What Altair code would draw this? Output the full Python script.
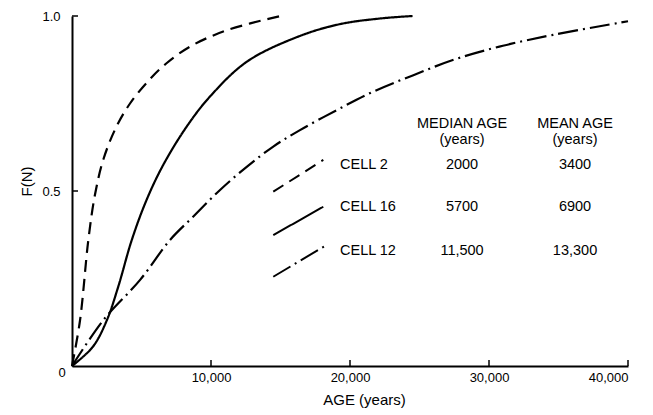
import altair as alt
import pandas as pd

# ---- data ----
cell_names = ["CELL 2", "CELL 16", "CELL 12"]

cell2_age = [0, 576, 1175, 1655, 2254, 3150, 4173, 5500, 6800, 8600, 11200, 15000]
cell2_f = [0, 0.13, 0.36, 0.49, 0.59, 0.68, 0.75, 0.815, 0.865, 0.915, 0.96, 1.0]

cell16_age = [0, 1500, 2500, 3330, 4300, 5370, 6570, 8250, 9930, 12600, 16400, 19300, 22200, 24500]
cell16_f = [0, 0.055, 0.13, 0.227, 0.36, 0.475, 0.575, 0.684, 0.77, 0.87, 0.943, 0.977, 0.993, 1.0]

cell12_age = [0, 2250, 4900, 7050, 8730, 10650, 12570, 14480, 16400, 19040, 21680, 24560, 27600, 31000, 34600, 40000]
cell12_f = [0, 0.131, 0.246, 0.36, 0.427, 0.503, 0.569, 0.627, 0.674, 0.731, 0.784, 0.831, 0.877, 0.915, 0.946, 0.985]

median_ages = ["2000", "5700", "11,500"]
mean_ages = ["3400", "6900", "13,300"]
header_line1 = ["MEDIAN AGE", "MEAN AGE"]
header_line2 = ["(years)", "(years)"]

x_ticks = [10000, 20000, 30000, 40000]
y_ticks = [0.5, 1.0]

FONT = "Liberation Sans"
W, H = 556, 350

# ---- build tables ----
rows = []
for name, ages, fs in zip(cell_names, [cell2_age, cell16_age, cell12_age], [cell2_f, cell16_f, cell12_f]):
    for i, (a, f) in enumerate(zip(ages, fs)):
        rows.append({"cell": name, "age": a, "f": f, "order": i})
curves = pd.DataFrame(rows)

dash_scale = alt.Scale(domain=cell_names, range=[[12, 7], [1, 0], [20, 5, 2, 5]])

# legend layout (in data coordinates)
row_f = [0.574, 0.455, 0.329]
seg_x0 = [14480, 14480, 14480]
seg_x1 = [18080, 18080, 18320]
seg_y0 = [0.498, 0.374, 0.255]
seg_y1 = [0.589, 0.455, 0.346]
legend_segs = pd.DataFrame({"cell": cell_names, "x": seg_x0, "x2": seg_x1, "y": seg_y0, "y2": seg_y1})

col_name_x, col_med_x, col_mean_x = 19280, 28060, 36190
text_rows = []
for name, med, mean, fy in zip(cell_names, median_ages, mean_ages, row_f):
    text_rows.append({"t": name, "x": col_name_x, "y": fy, "al": "left"})
    text_rows.append({"t": med, "x": col_med_x, "y": fy, "al": "center"})
    text_rows.append({"t": mean, "x": col_mean_x, "y": fy, "al": "center"})
for h1, h2, cx in zip(header_line1, header_line2, [col_med_x, col_mean_x]):
    text_rows.append({"t": h1, "x": cx, "y": 0.691, "al": "center"})
    text_rows.append({"t": h2, "x": cx, "y": 0.646, "al": "center"})
texts = pd.DataFrame(text_rows)

xs = alt.Scale(domain=[0, 40000], nice=False)
ys = alt.Scale(domain=[0, 1], nice=False)

base = alt.Chart(curves)

lines = base.mark_line(color="black", strokeWidth=2.2, interpolate="catmull-rom", clip=False).encode(
    x=alt.X("age:Q", scale=xs, axis=alt.Axis(
        values=x_ticks, format=",.0f", title="AGE (years)", ticks=False,
        labelPadding=5, titlePadding=8, titleX=292)),
    y=alt.Y("f:Q", scale=ys, axis=alt.Axis(
        values=y_ticks, format=".1f", title="F(N)", ticks=False,
        labelPadding=12, titlePadding=7, titleY=165)),
    strokeDash=alt.StrokeDash("cell:N", scale=dash_scale, legend=None),
    detail="cell:N",
    order="order:Q",
)

segs = alt.Chart(legend_segs).mark_rule(color="black", strokeWidth=2).encode(
    x=alt.X("x:Q", scale=xs), x2="x2:Q",
    y=alt.Y("y:Q", scale=ys), y2="y2:Q",
    strokeDash=alt.StrokeDash("cell:N", scale=dash_scale, legend=None),
)

left_text = alt.Chart(texts).transform_filter("datum.al == 'left'").mark_text(
    font=FONT, fontSize=14.5, align="left", baseline="middle", color="black").encode(
    x=alt.X("x:Q", scale=xs), y=alt.Y("y:Q", scale=ys), text="t:N")
center_text = alt.Chart(texts).transform_filter("datum.al == 'center'").mark_text(
    font=FONT, fontSize=14.5, align="center", baseline="middle", color="black").encode(
    x=alt.X("x:Q", scale=xs), y=alt.Y("y:Q", scale=ys), text="t:N")

# inward ticks
xt = alt.Chart(pd.DataFrame({"v": x_ticks})).mark_rule(color="black", strokeWidth=1.5).encode(
    x=alt.X("v:Q", scale=xs), y=alt.value(H), y2=alt.value(H - 6))
yt = alt.Chart(pd.DataFrame({"v": y_ticks})).mark_rule(color="black", strokeWidth=1.5).encode(
    y=alt.Y("v:Q", scale=ys), x=alt.value(0), x2=alt.value(6))

zero_lab = alt.Chart(pd.DataFrame({"x": [0], "y": [0], "t": ["0"]})).mark_text(
    font=FONT, fontSize=13, align="center", baseline="middle", dx=-10, dy=7, color="black").encode(
    x=alt.X("x:Q", scale=xs), y=alt.Y("y:Q", scale=ys), text="t:N")

chart = alt.layer(lines, segs, left_text, center_text, xt, yt, zero_lab).properties(
    width=W, height=H,
    autosize=alt.AutoSizeParams(type="none"),
    padding={"left": 72, "top": 16, "right": 25, "bottom": 49},
).configure_view(stroke=None).configure_axis(
    domainColor="black", domainWidth=2, grid=False,
    labelFont=FONT, labelFontSize=13, labelColor="black",
    titleFont=FONT, titleFontSize=15, titleFontWeight="normal", titleColor="black",
)

chart.save("out.html", embed_options={"renderer": "svg", "actions": False})
